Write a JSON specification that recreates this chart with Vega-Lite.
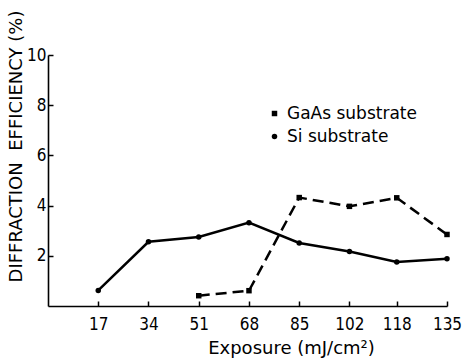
{
  "$schema": "https://vega.github.io/schema/vega-lite/v6.json",
  "autosize": {"type": "none"},
  "width": 399,
  "height": 251,
  "padding": {"left": 48, "top": 55, "right": 18, "bottom": 54},
  "background": "white",
  "config": {
    "view": {"stroke": null},
    "font": "DejaVu Sans",
    "axis": {"grid": false, "domainColor": "black", "domainWidth": 1.6, "tickColor": "black", "tickWidth": 1.5, "labelColor": "black", "titleColor": "black", "labelFont": "DejaVu Sans Condensed", "titleFont": "DejaVu Sans", "labelFontSize": 17, "titleFontSize": 18, "titleFontWeight": "normal"}
  },
  "data": {"values": [
    {"exposure": 17, "eff": 0.62, "substrate": "Si substrate"},
    {"exposure": 34, "eff": 2.56, "substrate": "Si substrate"},
    {"exposure": 51, "eff": 2.75, "substrate": "Si substrate"},
    {"exposure": 68, "eff": 3.32, "substrate": "Si substrate"},
    {"exposure": 85, "eff": 2.51, "substrate": "Si substrate"},
    {"exposure": 102, "eff": 2.17, "substrate": "Si substrate"},
    {"exposure": 118, "eff": 1.75, "substrate": "Si substrate"},
    {"exposure": 135, "eff": 1.88, "substrate": "Si substrate"},
    {"exposure": 51, "eff": 0.41, "substrate": "GaAs substrate"},
    {"exposure": 68, "eff": 0.61, "substrate": "GaAs substrate"},
    {"exposure": 85, "eff": 4.32, "substrate": "GaAs substrate"},
    {"exposure": 102, "eff": 3.97, "substrate": "GaAs substrate"},
    {"exposure": 118, "eff": 4.31, "substrate": "GaAs substrate"},
    {"exposure": 135, "eff": 2.85, "substrate": "GaAs substrate"}
  ]},
  "encoding": {
    "x": {"field": "exposure", "type": "quantitative", "scale": {"domain": [0, 135], "nice": false, "zero": true},
      "axis": {"values": [17, 34, 51, 68, 85, 102, 118, 135], "tickSize": -5, "labelPadding": 15, "title": "Exposure (mJ/cm²)", "titlePadding": 7, "titleX": 243, "labelFlush": false}},
    "y": {"field": "eff", "type": "quantitative", "scale": {"domain": [0, 10], "nice": false},
      "axis": {"values": [2, 4, 6, 8, 10], "tickSize": -5, "labelPadding": 7, "title": "DIFFRACTION\u00a0\u00a0EFFICIENCY\u00a0(%)", "titleFont": "DejaVu Sans", "titleFontSize": 18, "titleY": 91, "titlePadding": 1, "labelFlush": false}}
  },
  "layer": [
    {
      "transform": [{"filter": "datum.substrate === 'GaAs substrate'"}],
      "mark": {"type": "line", "color": "black", "strokeWidth": 2.5, "strokeDash": [11, 6]},
      "encoding": {}
    },
    {
      "transform": [{"filter": "datum.substrate === 'Si substrate'"}],
      "mark": {"type": "line", "color": "black", "strokeWidth": 2.5},
      "encoding": {}
    },
    {
      "mark": {"type": "point", "filled": true, "color": "black", "opacity": 1, "size": 30},
      "encoding": {
        "shape": {"field": "substrate", "type": "nominal", "scale": {"domain": ["GaAs substrate", "Si substrate"], "range": ["square", "circle"]},
          "legend": {"orient": "none", "legendX": 218, "legendY": 50, "title": null, "labelFontSize": 17, "labelFont": "DejaVu Sans", "labelColor": "black", "symbolSize": 30, "symbolFillColor": "black", "symbolStrokeColor": "black", "labelOffset": 4, "rowPadding": 5, "padding": 0}}
      }
    }
  ]
}
